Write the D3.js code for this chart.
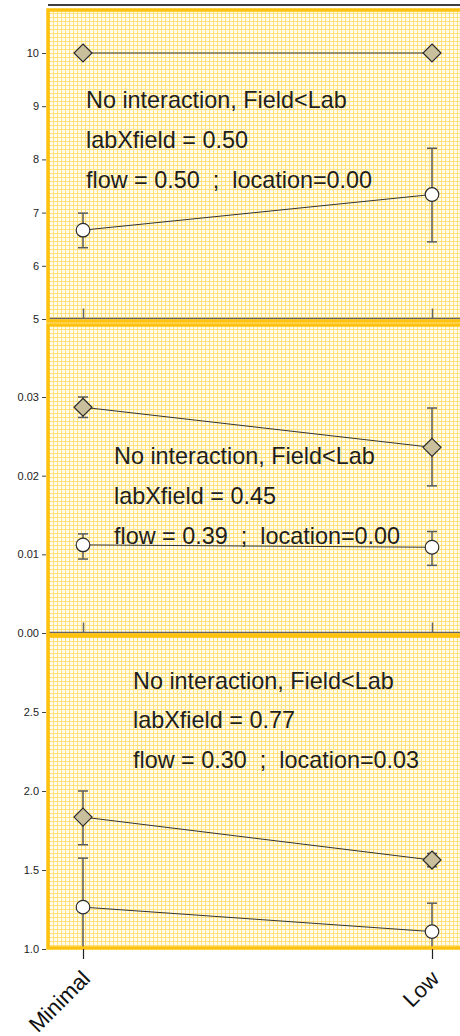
<!DOCTYPE html>
<html>
<head>
<meta charset="utf-8">
<script src="https://cdn.jsdelivr.net/npm/d3@7"></script>
<style>
  body { margin: 0; background: #fff; }
  svg { display: block; font-family: "Liberation Sans", Arial, sans-serif; }
</style>
</head>
<body>
<div id="chart"></div>
<script>
// categories on the x axis
const categories = ["Minimal", "Low"];

// panel 1
const labMean1 = [10, 10];
const labLo1 = [10, 10];
const labHi1 = [10, 10];
const fieldMean1 = [6.67, 7.34];
const fieldLo1 = [6.34, 6.45];
const fieldHi1 = [6.99, 8.21];
const ticks1 = [5, 6, 7, 8, 9, 10];
const notes1 = ["No interaction, Field<Lab", "labXfield = 0.50", "flow = 0.50  ;  location=0.00"];

// panel 2
const labMean2 = [0.0287, 0.0236];
const labLo2 = [0.0274, 0.0187];
const labHi2 = [0.0300, 0.0286];
const fieldMean2 = [0.0112, 0.0109];
const fieldLo2 = [0.0094, 0.0086];
const fieldHi2 = [0.0126, 0.0129];
const ticks2 = [0, 0.01, 0.02, 0.03];
const notes2 = ["No interaction, Field<Lab", "labXfield = 0.45", "flow = 0.39  ;  location=0.00"];

// panel 3
const labMean3 = [1.835, 1.563];
const labLo3 = [1.66, 1.52];
const labHi3 = [2.0, 1.605];
const fieldMean3 = [1.265, 1.11];
const fieldLo3 = [0.955, 0.93];
const fieldHi3 = [1.575, 1.29];
const ticks3 = [1.0, 1.5, 2.0, 2.5];
const notes3 = ["No interaction, Field<Lab", "labXfield = 0.77", "flow = 0.30  ;  location=0.03"];

const W = 460, H = 1036;
const frameLeft = 48, frameRight = 470;

const svg = d3.select("#chart").append("svg")
  .attr("width", W).attr("height", H);

// dotted yellow fill
const defs = svg.append("defs");
const pat = defs.append("pattern")
  .attr("id", "dots").attr("patternUnits", "userSpaceOnUse")
  .attr("width", 4).attr("height", 4);
pat.append("rect").attr("width", 4).attr("height", 4).attr("fill", "#fffcee")
  .attr("shape-rendering", "crispEdges");
pat.append("rect").attr("x", 0).attr("y", 1).attr("width", 4).attr("height", 1).attr("fill", "#ffe27e")
  .attr("shape-rendering", "crispEdges");
pat.append("rect").attr("x", 1).attr("y", 0).attr("width", 1).attr("height", 4).attr("fill", "#ffe27e")
  .attr("shape-rendering", "crispEdges");

const x = d3.scalePoint().domain(categories).range([83, 432]);

const panels = [
  { top: 10, bottom: 321, domain: [5, 10], range: [319, 53], ticks: ticks1, fmt: d3.format("d"),
    lab: [labMean1, labLo1, labHi1], field: [fieldMean1, fieldLo1, fieldHi1],
    notes: notes1, noteX: 86, noteY: [108, 148, 188] },
  { top: 325, bottom: 635, domain: [0, 0.03], range: [633, 397], ticks: ticks2, fmt: d3.format(".2f"),
    lab: [labMean2, labLo2, labHi2], field: [fieldMean2, fieldLo2, fieldHi2],
    notes: notes2, noteX: 114, noteY: [464, 504, 544] },
  { top: 636, bottom: 948, domain: [1.0, 2.5], range: [949, 712], ticks: ticks3, fmt: d3.format(".1f"),
    lab: [labMean3, labLo3, labHi3], field: [fieldMean3, fieldLo3, fieldHi3],
    notes: notes3, noteX: 133, noteY: [689, 728, 768], last: true }
];

// top frame line
svg.append("line")
  .attr("x1", frameLeft).attr("x2", W).attr("y1", 5).attr("y2", 5)
  .attr("stroke", "#000").attr("stroke-width", 1.5);

panels.forEach(function(p, pi) {
  const y = d3.scaleLinear().domain(p.domain).range(p.range);
  const g = svg.append("g");

  defs.append("clipPath").attr("id", "clip" + pi)
    .append("rect")
    .attr("x", frameLeft).attr("y", p.top)
    .attr("width", frameRight - frameLeft).attr("height", p.bottom - p.top);

  g.append("rect")
    .attr("x", frameLeft).attr("y", p.top)
    .attr("width", frameRight - frameLeft).attr("height", p.bottom - p.top)
    .attr("fill", "url(#dots)");

  // x axis inside upper panels
  if (!p.last) {
    const xa = g.append("g")
      .attr("transform", "translate(0," + (p.range[0] - 0.5) + ")")
      .call(d3.axisBottom(x).tickSize(-10).tickFormat(""));
    xa.select(".domain").attr("stroke", "#666").attr("stroke-width", 1.5).attr("d", "M" + frameLeft + ",0H" + W);
    xa.selectAll(".tick line").attr("stroke", "#666").attr("stroke-width", 1.5);
  }

  const marks = g.append("g").attr("clip-path", "url(#clip" + pi + ")");

  function drawSeries(s, shape) {
    const mean = s[0], lo = s[1], hi = s[2];
    const pts = categories.map(function(c, i) { return { c: c, m: mean[i], lo: lo[i], hi: hi[i] }; });
    marks.append("path")
      .datum(pts)
      .attr("fill", "none").attr("stroke", "#333").attr("stroke-width", 1)
      .attr("d", d3.line().x(function(d) { return x(d.c); }).y(function(d) { return y(d.m); }));
    const eb = marks.selectAll(null).data(pts.filter(function(d) { return d.hi > d.lo; }))
      .enter().append("g").attr("stroke", "#5a5a5a").attr("stroke-width", 1.5);
    eb.append("line")
      .attr("x1", function(d) { return x(d.c); }).attr("x2", function(d) { return x(d.c); })
      .attr("y1", function(d) { return y(d.lo); }).attr("y2", function(d) { return y(d.hi); });
    eb.append("line")
      .attr("x1", function(d) { return x(d.c) - 5; }).attr("x2", function(d) { return x(d.c) + 5; })
      .attr("y1", function(d) { return y(d.hi); }).attr("y2", function(d) { return y(d.hi); });
    eb.append("line")
      .attr("x1", function(d) { return x(d.c) - 5; }).attr("x2", function(d) { return x(d.c) + 5; })
      .attr("y1", function(d) { return y(d.lo); }).attr("y2", function(d) { return y(d.lo); });
    if (shape === "diamond") {
      marks.selectAll(null).data(pts).enter().append("path")
        .attr("transform", function(d) { return "translate(" + x(d.c) + "," + y(d.m) + ")"; })
        .attr("d", "M0,-9L9,0L0,9L-9,0Z")
        .attr("fill", "#c9bf9c").attr("stroke", "#2b2b2b").attr("stroke-width", 1.2);
    } else {
      marks.selectAll(null).data(pts).enter().append("circle")
        .attr("cx", function(d) { return x(d.c); }).attr("cy", function(d) { return y(d.m); })
        .attr("r", 6.8)
        .attr("fill", "#fff").attr("stroke", "#2b2b2b").attr("stroke-width", 1.2);
    }
  }
  drawSeries(p.field, "circle");
  drawSeries(p.lab, "diamond");

  // annotations
  g.selectAll(null).data(p.notes).enter().append("text")
    .attr("x", p.noteX).attr("y", function(d, i) { return p.noteY[i]; })
    .attr("font-size", 23.4).attr("fill", "#1e1e1e")
    .style("white-space", "pre")
    .text(function(d) { return d; });

  // gold frame
  g.append("rect")
    .attr("x", frameLeft).attr("y", p.top)
    .attr("width", frameRight - frameLeft).attr("height", p.bottom - p.top)
    .attr("fill", "none").attr("stroke", "#ffc20e").attr("stroke-width", 3.5);

  // y axis
  const ya = g.append("g")
    .attr("transform", "translate(46,0)")
    .call(d3.axisLeft(y).tickValues(p.ticks).tickFormat(p.fmt).tickSize(4).tickPadding(3));
  ya.select(".domain").remove();
  ya.selectAll(".tick line").attr("stroke", "#444");
  ya.selectAll(".tick text").attr("font-size", 11).attr("fill", "#222")
    .style("font-family", "'Liberation Sans', Arial, sans-serif");

  if (p.last) {
    const xa = g.append("g")
      .attr("transform", "translate(0," + p.range[0] + ")")
      .call(d3.axisBottom(x).tickSize(10));
    xa.select(".domain").remove();
    xa.selectAll(".tick line").attr("stroke", "#222").attr("stroke-width", 1.2);
    xa.selectAll(".tick text")
      .attr("font-size", 22).attr("fill", "#111")
      .style("font-family", "'Liberation Sans', Arial, sans-serif")
      .attr("text-anchor", "end")
      .attr("x", 0).attr("y", 0).attr("dy", 0)
      .attr("transform", "translate(8,31) rotate(-45)");
  }
});
</script>
</body>
</html>
